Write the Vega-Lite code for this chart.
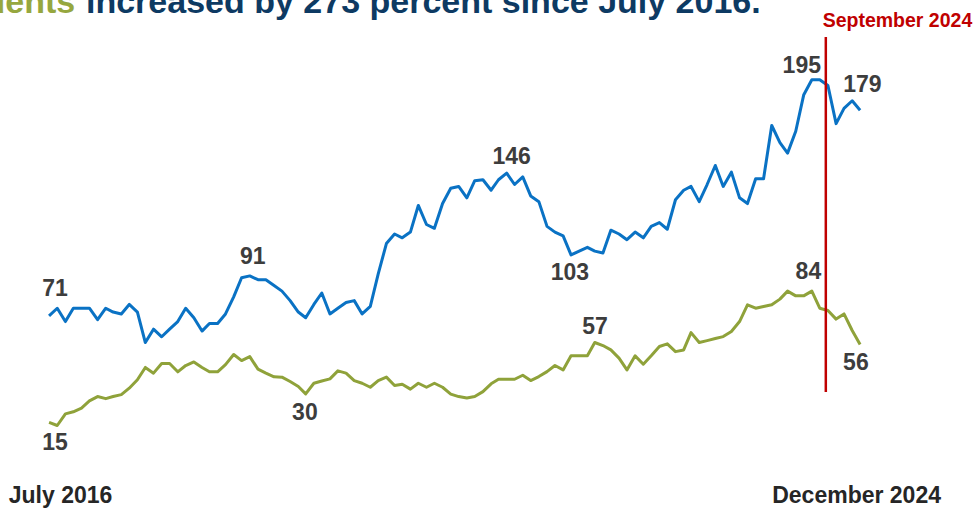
{
  "$schema": "https://vega.github.io/schema/vega-lite/v6.json",
  "width": 978,
  "height": 414,
  "autosize": {"type": "none"},
  "padding": {"top": 37, "left": 0, "right": 0, "bottom": 59},
  "background": "white",
  "config": {"view": {"stroke": null}, "font": "Liberation Sans"},
  "datasets": {
    "series": [
      {"date": "2016-07-01", "series": "Total", "value": 71},
      {"date": "2016-08-01", "series": "Total", "value": 75},
      {"date": "2016-09-01", "series": "Total", "value": 68},
      {"date": "2016-10-01", "series": "Total", "value": 75},
      {"date": "2016-11-01", "series": "Total", "value": 75},
      {"date": "2016-12-01", "series": "Total", "value": 75},
      {"date": "2017-01-01", "series": "Total", "value": 69},
      {"date": "2017-02-01", "series": "Total", "value": 75},
      {"date": "2017-03-01", "series": "Total", "value": 73},
      {"date": "2017-04-01", "series": "Total", "value": 72},
      {"date": "2017-05-01", "series": "Total", "value": 77},
      {"date": "2017-06-01", "series": "Total", "value": 73},
      {"date": "2017-07-01", "series": "Total", "value": 57},
      {"date": "2017-08-01", "series": "Total", "value": 64},
      {"date": "2017-09-01", "series": "Total", "value": 60},
      {"date": "2017-10-01", "series": "Total", "value": 64},
      {"date": "2017-11-01", "series": "Total", "value": 68},
      {"date": "2017-12-01", "series": "Total", "value": 75},
      {"date": "2018-01-01", "series": "Total", "value": 70},
      {"date": "2018-02-01", "series": "Total", "value": 63},
      {"date": "2018-03-01", "series": "Total", "value": 67},
      {"date": "2018-04-01", "series": "Total", "value": 67},
      {"date": "2018-05-01", "series": "Total", "value": 72},
      {"date": "2018-06-01", "series": "Total", "value": 81},
      {"date": "2018-07-01", "series": "Total", "value": 91},
      {"date": "2018-08-01", "series": "Total", "value": 92},
      {"date": "2018-09-01", "series": "Total", "value": 90},
      {"date": "2018-10-01", "series": "Total", "value": 90},
      {"date": "2018-11-01", "series": "Total", "value": 87},
      {"date": "2018-12-01", "series": "Total", "value": 84},
      {"date": "2019-01-01", "series": "Total", "value": 79},
      {"date": "2019-02-01", "series": "Total", "value": 73},
      {"date": "2019-03-01", "series": "Total", "value": 70},
      {"date": "2019-04-01", "series": "Total", "value": 77},
      {"date": "2019-05-01", "series": "Total", "value": 83},
      {"date": "2019-06-01", "series": "Total", "value": 72},
      {"date": "2019-07-01", "series": "Total", "value": 75},
      {"date": "2019-08-01", "series": "Total", "value": 78},
      {"date": "2019-09-01", "series": "Total", "value": 79},
      {"date": "2019-10-01", "series": "Total", "value": 72},
      {"date": "2019-11-01", "series": "Total", "value": 76},
      {"date": "2019-12-01", "series": "Total", "value": 93},
      {"date": "2020-01-01", "series": "Total", "value": 109},
      {"date": "2020-02-01", "series": "Total", "value": 114},
      {"date": "2020-03-01", "series": "Total", "value": 112},
      {"date": "2020-04-01", "series": "Total", "value": 115},
      {"date": "2020-05-01", "series": "Total", "value": 129},
      {"date": "2020-06-01", "series": "Total", "value": 119},
      {"date": "2020-07-01", "series": "Total", "value": 117},
      {"date": "2020-08-01", "series": "Total", "value": 130},
      {"date": "2020-09-01", "series": "Total", "value": 138},
      {"date": "2020-10-01", "series": "Total", "value": 139},
      {"date": "2020-11-01", "series": "Total", "value": 133},
      {"date": "2020-12-01", "series": "Total", "value": 142},
      {"date": "2021-01-01", "series": "Total", "value": 142.5},
      {"date": "2021-02-01", "series": "Total", "value": 137},
      {"date": "2021-03-01", "series": "Total", "value": 142.5},
      {"date": "2021-04-01", "series": "Total", "value": 146},
      {"date": "2021-05-01", "series": "Total", "value": 140},
      {"date": "2021-06-01", "series": "Total", "value": 144},
      {"date": "2021-07-01", "series": "Total", "value": 134},
      {"date": "2021-08-01", "series": "Total", "value": 131},
      {"date": "2021-09-01", "series": "Total", "value": 118},
      {"date": "2021-10-01", "series": "Total", "value": 115},
      {"date": "2021-11-01", "series": "Total", "value": 113},
      {"date": "2021-12-01", "series": "Total", "value": 103},
      {"date": "2022-01-01", "series": "Total", "value": 105},
      {"date": "2022-02-01", "series": "Total", "value": 107},
      {"date": "2022-03-01", "series": "Total", "value": 105},
      {"date": "2022-04-01", "series": "Total", "value": 104},
      {"date": "2022-05-01", "series": "Total", "value": 116},
      {"date": "2022-06-01", "series": "Total", "value": 114},
      {"date": "2022-07-01", "series": "Total", "value": 111},
      {"date": "2022-08-01", "series": "Total", "value": 115},
      {"date": "2022-09-01", "series": "Total", "value": 112},
      {"date": "2022-10-01", "series": "Total", "value": 118},
      {"date": "2022-11-01", "series": "Total", "value": 120},
      {"date": "2022-12-01", "series": "Total", "value": 116.5},
      {"date": "2023-01-01", "series": "Total", "value": 132},
      {"date": "2023-02-01", "series": "Total", "value": 137},
      {"date": "2023-03-01", "series": "Total", "value": 139},
      {"date": "2023-04-01", "series": "Total", "value": 131},
      {"date": "2023-05-01", "series": "Total", "value": 140},
      {"date": "2023-06-01", "series": "Total", "value": 150},
      {"date": "2023-07-01", "series": "Total", "value": 139},
      {"date": "2023-08-01", "series": "Total", "value": 146.5},
      {"date": "2023-09-01", "series": "Total", "value": 133},
      {"date": "2023-10-01", "series": "Total", "value": 130},
      {"date": "2023-11-01", "series": "Total", "value": 143},
      {"date": "2023-12-01", "series": "Total", "value": 143},
      {"date": "2024-01-01", "series": "Total", "value": 171},
      {"date": "2024-02-01", "series": "Total", "value": 162},
      {"date": "2024-03-01", "series": "Total", "value": 156.5},
      {"date": "2024-04-01", "series": "Total", "value": 168},
      {"date": "2024-05-01", "series": "Total", "value": 187},
      {"date": "2024-06-01", "series": "Total", "value": 195},
      {"date": "2024-07-01", "series": "Total", "value": 195},
      {"date": "2024-08-01", "series": "Total", "value": 192},
      {"date": "2024-09-01", "series": "Total", "value": 172},
      {"date": "2024-10-01", "series": "Total", "value": 180},
      {"date": "2024-11-01", "series": "Total", "value": 184},
      {"date": "2024-12-01", "series": "Total", "value": 179},
      {"date": "2016-07-01", "series": "Students", "value": 15},
      {"date": "2016-08-01", "series": "Students", "value": 13.4},
      {"date": "2016-09-01", "series": "Students", "value": 19.5},
      {"date": "2016-10-01", "series": "Students", "value": 20.6},
      {"date": "2016-11-01", "series": "Students", "value": 22.5},
      {"date": "2016-12-01", "series": "Students", "value": 26.3},
      {"date": "2017-01-01", "series": "Students", "value": 28.6},
      {"date": "2017-02-01", "series": "Students", "value": 27.5},
      {"date": "2017-03-01", "series": "Students", "value": 28.6},
      {"date": "2017-04-01", "series": "Students", "value": 29.6},
      {"date": "2017-05-01", "series": "Students", "value": 33},
      {"date": "2017-06-01", "series": "Students", "value": 37.4},
      {"date": "2017-07-01", "series": "Students", "value": 43.9},
      {"date": "2017-08-01", "series": "Students", "value": 40.9},
      {"date": "2017-09-01", "series": "Students", "value": 46},
      {"date": "2017-10-01", "series": "Students", "value": 46},
      {"date": "2017-11-01", "series": "Students", "value": 41.6},
      {"date": "2017-12-01", "series": "Students", "value": 44.9},
      {"date": "2018-01-01", "series": "Students", "value": 46.8},
      {"date": "2018-02-01", "series": "Students", "value": 43.9},
      {"date": "2018-03-01", "series": "Students", "value": 41.6},
      {"date": "2018-04-01", "series": "Students", "value": 41.6},
      {"date": "2018-05-01", "series": "Students", "value": 45.4},
      {"date": "2018-06-01", "series": "Students", "value": 50.7},
      {"date": "2018-07-01", "series": "Students", "value": 47.5},
      {"date": "2018-08-01", "series": "Students", "value": 49.6},
      {"date": "2018-09-01", "series": "Students", "value": 43},
      {"date": "2018-10-01", "series": "Students", "value": 40.9},
      {"date": "2018-11-01", "series": "Students", "value": 39},
      {"date": "2018-12-01", "series": "Students", "value": 38.8},
      {"date": "2019-01-01", "series": "Students", "value": 36.5},
      {"date": "2019-02-01", "series": "Students", "value": 33.9},
      {"date": "2019-03-01", "series": "Students", "value": 30},
      {"date": "2019-04-01", "series": "Students", "value": 35.6},
      {"date": "2019-05-01", "series": "Students", "value": 36.8},
      {"date": "2019-06-01", "series": "Students", "value": 37.9},
      {"date": "2019-07-01", "series": "Students", "value": 42.1},
      {"date": "2019-08-01", "series": "Students", "value": 40.9},
      {"date": "2019-09-01", "series": "Students", "value": 37},
      {"date": "2019-10-01", "series": "Students", "value": 35.6},
      {"date": "2019-11-01", "series": "Students", "value": 33.5},
      {"date": "2019-12-01", "series": "Students", "value": 37},
      {"date": "2020-01-01", "series": "Students", "value": 38.8},
      {"date": "2020-02-01", "series": "Students", "value": 34.4},
      {"date": "2020-03-01", "series": "Students", "value": 35.1},
      {"date": "2020-04-01", "series": "Students", "value": 32.5},
      {"date": "2020-05-01", "series": "Students", "value": 35.6},
      {"date": "2020-06-01", "series": "Students", "value": 33.5},
      {"date": "2020-07-01", "series": "Students", "value": 35.6},
      {"date": "2020-08-01", "series": "Students", "value": 33.5},
      {"date": "2020-09-01", "series": "Students", "value": 29.9},
      {"date": "2020-10-01", "series": "Students", "value": 28.6},
      {"date": "2020-11-01", "series": "Students", "value": 27.8},
      {"date": "2020-12-01", "series": "Students", "value": 28.6},
      {"date": "2021-01-01", "series": "Students", "value": 31.2},
      {"date": "2021-02-01", "series": "Students", "value": 35.3},
      {"date": "2021-03-01", "series": "Students", "value": 37.7},
      {"date": "2021-04-01", "series": "Students", "value": 37.7},
      {"date": "2021-05-01", "series": "Students", "value": 37.7},
      {"date": "2021-06-01", "series": "Students", "value": 39.8},
      {"date": "2021-07-01", "series": "Students", "value": 37},
      {"date": "2021-08-01", "series": "Students", "value": 39.1},
      {"date": "2021-09-01", "series": "Students", "value": 41.7},
      {"date": "2021-10-01", "series": "Students", "value": 44.9},
      {"date": "2021-11-01", "series": "Students", "value": 42.6},
      {"date": "2021-12-01", "series": "Students", "value": 50},
      {"date": "2022-01-01", "series": "Students", "value": 50},
      {"date": "2022-02-01", "series": "Students", "value": 50},
      {"date": "2022-03-01", "series": "Students", "value": 57},
      {"date": "2022-04-01", "series": "Students", "value": 55.4},
      {"date": "2022-05-01", "series": "Students", "value": 53.1},
      {"date": "2022-06-01", "series": "Students", "value": 48.8},
      {"date": "2022-07-01", "series": "Students", "value": 42.6},
      {"date": "2022-08-01", "series": "Students", "value": 50},
      {"date": "2022-09-01", "series": "Students", "value": 45.6},
      {"date": "2022-10-01", "series": "Students", "value": 50},
      {"date": "2022-11-01", "series": "Students", "value": 54.9},
      {"date": "2022-12-01", "series": "Students", "value": 56.3},
      {"date": "2023-01-01", "series": "Students", "value": 52.2},
      {"date": "2023-02-01", "series": "Students", "value": 53.1},
      {"date": "2023-03-01", "series": "Students", "value": 62.2},
      {"date": "2023-04-01", "series": "Students", "value": 57},
      {"date": "2023-05-01", "series": "Students", "value": 58},
      {"date": "2023-06-01", "series": "Students", "value": 59.1},
      {"date": "2023-07-01", "series": "Students", "value": 60.1},
      {"date": "2023-08-01", "series": "Students", "value": 62.8},
      {"date": "2023-09-01", "series": "Students", "value": 68},
      {"date": "2023-10-01", "series": "Students", "value": 76.8},
      {"date": "2023-11-01", "series": "Students", "value": 75},
      {"date": "2023-12-01", "series": "Students", "value": 75.9},
      {"date": "2024-01-01", "series": "Students", "value": 76.8},
      {"date": "2024-02-01", "series": "Students", "value": 79.8},
      {"date": "2024-03-01", "series": "Students", "value": 84},
      {"date": "2024-04-01", "series": "Students", "value": 81.5},
      {"date": "2024-05-01", "series": "Students", "value": 81.5},
      {"date": "2024-06-01", "series": "Students", "value": 84},
      {"date": "2024-07-01", "series": "Students", "value": 75},
      {"date": "2024-08-01", "series": "Students", "value": 73.8},
      {"date": "2024-09-01", "series": "Students", "value": 69.3},
      {"date": "2024-10-01", "series": "Students", "value": 72},
      {"date": "2024-11-01", "series": "Students", "value": 63.3},
      {"date": "2024-12-01", "series": "Students", "value": 56}
    ],
    "labels": [
      {"date": "2016-07-24", "value": 85.2, "text": "71"},
      {"date": "2016-07-24", "value": 4.3, "text": "15"},
      {"date": "2018-08-12", "value": 102, "text": "91"},
      {"date": "2019-02-26", "value": 20.2, "text": "30"},
      {"date": "2021-04-20", "value": 154.7, "text": "146"},
      {"date": "2021-11-27", "value": 93.4, "text": "103"},
      {"date": "2022-03-02", "value": 65.4, "text": "57"},
      {"date": "2024-04-24", "value": 202.4, "text": "195"},
      {"date": "2024-12-10", "value": 192.4, "text": "179"},
      {"date": "2024-05-19", "value": 94.3, "text": "84"},
      {"date": "2024-11-15", "value": 46.1, "text": "56"}
    ],
    "marker": [
      {"date": "2024-07-24", "value": 31, "value2": 217.5}
    ],
    "markerLabel": [
      {"date": "2024-07-12", "value": 226, "text": "September 2024"}
    ],
    "titleWord": [
      {"date": "2016-10-08", "value": 230.2, "text": "students"}
    ],
    "titleRest": [
      {"date": "2016-11-18", "value": 230.2, "text": "increased by 273 percent since July 2016."}
    ]
  },
  "layer": [
    {
      "data": {"name": "series"},
      "mark": {"type": "line", "strokeWidth": 3, "strokeJoin": "round"},
      "encoding": {
        "x": {
          "field": "date",
          "type": "temporal",
          "scale": {
            "type": "utc",
            "domain": [
              {"year": 2015, "month": 12, "date": 28, "utc": true},
              {"year": 2026, "month": 2, "date": 21, "utc": true}
            ]
          },
          "axis": {
            "title": null,
            "values": [
              {"year": 2016, "month": 7, "date": 1, "utc": true},
              {"year": 2024, "month": 12, "date": 1, "utc": true}
            ],
            "format": "%B %Y",
            "domain": false,
            "ticks": false,
            "tickSize": 0,
            "grid": false,
            "labelFlush": false,
            "labelAlign": "center",
            "labelBaseline": "middle",
            "labelPadding": 44,
            "labelOffset": {"condition": {"test": "datum.value < 1577836800000", "value": 11}, "value": -4},
            "labelFontSize": 23,
            "labelFontWeight": "bold",
            "labelColor": "#262626",
            "labelFont": "Liberation Sans"
          }
        },
        "y": {
          "field": "value",
          "type": "quantitative",
          "scale": {"domain": [0, 217.5], "nice": false, "zero": false},
          "axis": null
        },
        "color": {
          "field": "series",
          "type": "nominal",
          "scale": {"domain": ["Total", "Students"], "range": ["#0a72c4", "#8fa23a"]},
          "legend": null
        }
      }
    },
    {
      "data": {"name": "marker"},
      "mark": {"type": "rule", "color": "#c00000", "strokeWidth": 2.5},
      "encoding": {
        "x": {"field": "date", "type": "temporal"},
        "y": {"field": "value", "type": "quantitative", "axis": null},
        "y2": {"field": "value2"}
      }
    },
    {
      "data": {"name": "labels"},
      "mark": {"type": "text", "fontSize": 23, "fontWeight": "bold", "color": "#3d3d3d", "align": "center", "baseline": "middle", "font": "Liberation Sans"},
      "encoding": {
        "x": {"field": "date", "type": "temporal"},
        "y": {"field": "value", "type": "quantitative", "axis": null},
        "text": {"field": "text", "type": "nominal"}
      }
    },
    {
      "data": {"name": "markerLabel"},
      "mark": {"type": "text", "fontSize": 19.5, "fontWeight": "bold", "color": "#c00000", "align": "left", "baseline": "middle", "font": "Liberation Sans"},
      "encoding": {
        "x": {"field": "date", "type": "temporal"},
        "y": {"field": "value", "type": "quantitative", "axis": null},
        "text": {"field": "text", "type": "nominal"}
      }
    },
    {
      "data": {"name": "titleWord"},
      "mark": {"type": "text", "fontSize": 34, "fontWeight": "bold", "color": "#96a73f", "align": "right", "baseline": "alphabetic", "font": "Liberation Sans"},
      "encoding": {
        "x": {"field": "date", "type": "temporal"},
        "y": {"field": "value", "type": "quantitative", "axis": null},
        "text": {"field": "text", "type": "nominal"}
      }
    },
    {
      "data": {"name": "titleRest"},
      "mark": {"type": "text", "fontSize": 34, "fontWeight": "bold", "color": "#0d3a63", "align": "left", "baseline": "alphabetic", "font": "Liberation Sans"},
      "encoding": {
        "x": {"field": "date", "type": "temporal"},
        "y": {"field": "value", "type": "quantitative", "axis": null},
        "text": {"field": "text", "type": "nominal"}
      }
    }
  ]
}
